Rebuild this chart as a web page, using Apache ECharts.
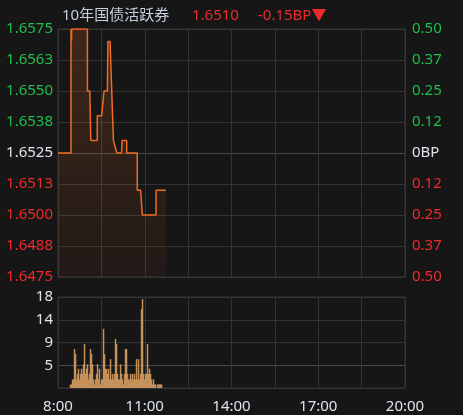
<!DOCTYPE html>
<html><head><meta charset="utf-8">
<script src="https://cdn.jsdelivr.net/npm/echarts@6/dist/echarts.min.js"></script>
<style>html,body{margin:0;padding:0;background:#161616;}#c{width:463px;height:415px;}</style>
</head><body><div id="c"></div>
<script>
const titleName = '10年国债活跃券';
const lastPrice = '1.6510';
const changeText = '-0.15BP▼';
const priceMin = 1.6475, priceMax = 1.6575, priceStep = 0.00125;
const leftLabels = ['1.6475','1.6488','1.6500','1.6513','1.6525','1.6538','1.6550','1.6563','1.6575'];
const rightLabels = ['0.50','0.37','0.25','0.12','0BP','0.12','0.25','0.37','0.50'];
const volLabels = ['', '5', '9', '14', '18'];
const timeLabels = ['8:00','11:00','14:00','17:00','20:00'];
// yield line: minutes after 8:00 and value
const lineMinutes = [0,27,27,28,28.5,61,61,66,68,81.5,81.5,90.5,95.5,102.5,103.5,108,111.5,115,122,132,133,142.5,142.5,164.5,164.5,171.5,175,203.5,203.5,224];
const lineValues = [1.6525,1.6525,1.6575,1.6570,1.6575,1.6575,1.6550,1.6550,1.6530,1.6530,1.6540,1.6540,1.6550,1.6550,1.6570,1.6570,1.6550,1.6530,1.6525,1.6525,1.6530,1.6530,1.6525,1.6525,1.6510,1.6510,1.6500,1.6500,1.6510,1.6510];
// volume bars: first bar minute, spacing in minutes, values
const volStartMinute = 26;
const volStepMinutes = 2.075;
const volValues = [0.7,0.7,1.7,1.7,7.7,6.7,1.7,2.8,3.8,1.7,2.8,3.8,2.8,4.7,8.7,2.8,3.8,4.7,1.7,2.8,
  7.7,6.7,4.7,1.7,0.7,1.7,2.8,4.7,1.7,3.8,0.7,1.7,1.7,11.7,6.7,3.8,3.8,2.8,3.8,1.7,
  5.7,1.7,2.8,1.7,2.8,9.7,8.7,2.8,1.7,1.7,4.7,2.8,1.7,0.7,2.8,7.7,7.7,2.8,1.7,1.7,
  2.8,1.7,2.8,1.7,2.8,1.7,5.7,1.7,5.7,1.7,2.8,15.6,17.6,2.8,1.7,2.8,2.8,8.7,2.8,3.8,
  2.8,1.7,0.7,1.7,0.7,0.7,0,0.7,0.7,0.7,0.7,0.7];

const GREEN = '#22bd4c', RED = '#ee2a2e', WHITE = '#dde4ee';
const FONT = '"Noto Sans", "Noto Sans CJK SC", sans-serif';
const gridLine = '#343434', midLine = '#4a4a4a';

function priceIdx(v){ return Math.round((parseFloat(v) - priceMin) / priceStep); }
function priceColor(v){ const i = priceIdx(v); return i > 4 ? GREEN : (i < 4 ? RED : WHITE); }

const lineData = lineMinutes.map((m, i) => [m, lineValues[i]]);
const volData = volValues.map((v, i) => [volStartMinute + i * volStepMinutes, v]);

const chart = echarts.init(document.getElementById('c'), null, {renderer: 'canvas'});
chart.setOption({
  backgroundColor: '#161616',
  animation: false,
  title: [
    {text: titleName, left: 57, top: 3, textStyle: {color: '#c6d0de', fontSize: 15, fontWeight: 'normal', fontFamily: FONT}},
    {text: lastPrice, left: 187, top: 3, textStyle: {color: RED, fontSize: 15, fontWeight: 'normal', fontFamily: FONT}},
    {text: changeText, left: 253, top: 3, textStyle: {color: RED, fontSize: 15, fontWeight: 'normal', fontFamily: FONT}}
  ],
  grid: [
    {left: 58, top: 29, width: 347, height: 248, show: true, borderColor: gridLine, borderWidth: 1, backgroundColor: 'transparent'},
    {left: 58, top: 297, width: 347, height: 91, show: true, borderColor: gridLine, borderWidth: 1, backgroundColor: 'transparent'}
  ],
  xAxis: [
    {type: 'value', gridIndex: 0, min: 0, max: 720, interval: 90,
     axisLine: {show: false}, axisTick: {show: false}, axisLabel: {show: false},
     splitLine: {show: true, lineStyle: {color: gridLine, width: 1}}},
    {type: 'value', gridIndex: 1, min: 0, max: 720, interval: 90,
     axisLine: {show: false}, axisTick: {show: false},
     axisLabel: {show: true, margin: 11, color: WHITE, fontSize: 15, fontFamily: FONT, showMinLabel: true, showMaxLabel: true,
       formatter: v => (v % 180 === 0 ? timeLabels[v / 180] : '')},
     splitLine: {show: true, lineStyle: {color: gridLine, width: 1}}}
  ],
  yAxis: [
    {type: 'value', gridIndex: 0, min: priceMin, max: priceMax, interval: priceStep, position: 'left',
     axisLine: {show: false}, axisTick: {show: false},
     axisLabel: {margin: 5, fontSize: 15, fontFamily: FONT, color: v => priceColor(v),
       formatter: v => leftLabels[priceIdx(v)]},
     splitLine: {show: true, lineStyle: {color: [gridLine, gridLine, gridLine, gridLine, midLine, gridLine, gridLine, gridLine, gridLine], width: 1}}},
    {type: 'value', gridIndex: 0, min: priceMin, max: priceMax, interval: priceStep, position: 'right',
     axisLine: {show: false}, axisTick: {show: false},
     axisLabel: {margin: 7, fontSize: 15, fontFamily: FONT, color: v => priceColor(v),
       formatter: v => rightLabels[priceIdx(v)]},
     splitLine: {show: false}},
    {type: 'value', gridIndex: 1, min: 0, max: 18, interval: 4.5,
     axisLine: {show: false}, axisTick: {show: false},
     axisLabel: {margin: 5, fontSize: 15, fontFamily: FONT, color: WHITE,
       formatter: v => volLabels[Math.round(v / 4.5)]},
     splitLine: {show: true, lineStyle: {color: [gridLine, midLine, gridLine, gridLine, gridLine], width: 1}}}
  ],
  series: [
    {type: 'line', xAxisIndex: 0, yAxisIndex: 0, data: lineData, symbol: 'none', silent: true,
     lineStyle: {color: '#f26a22', width: 1.5},
     areaStyle: {origin: 'start', color: new echarts.graphic.LinearGradient(0, 0, 0, 1, [
       {offset: 0, color: 'rgba(240,110,40,0.27)'}, {offset: 1, color: 'rgba(240,110,40,0.07)'}])}},
    {type: 'bar', xAxisIndex: 1, yAxisIndex: 2, data: volData, barWidth: 1.5, silent: true,
     itemStyle: {color: '#c4925a'}}
  ]
});
</script></body></html>
